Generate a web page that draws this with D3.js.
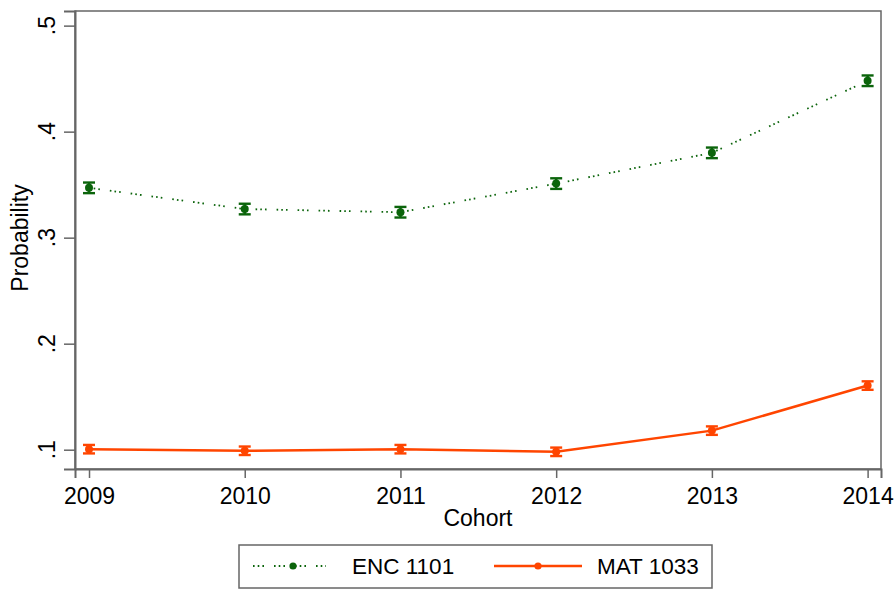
<!DOCTYPE html>
<html>
<head>
<meta charset="utf-8">
<script src="https://cdn.jsdelivr.net/npm/d3@7"></script>
<style>
  body { margin: 0; background: #fff; }
  svg { display: block; font-family: "Liberation Sans", Arial, sans-serif; }
</style>
</head>
<body>
<svg width="896" height="590"></svg>
<script>
// data
const cohorts = [2009, 2010, 2011, 2012, 2013, 2014];
const encProb = [0.347, 0.327, 0.324, 0.351, 0.380, 0.448];
const encErr  = [0.005, 0.005, 0.005, 0.005, 0.005, 0.005];
const matProb = [0.1005, 0.099, 0.1005, 0.098, 0.118, 0.1605];
const matErr  = [0.004, 0.004, 0.004, 0.004, 0.004, 0.004];
const yTicks = [0.1, 0.2, 0.3, 0.4, 0.5];
const yTickLabels = [".1", ".2", ".3", ".4", ".5"];
const seriesNames = ["ENC 1101", "MAT 1033"];

const svg = d3.select("svg");
const plot = {left: 75, right: 881, top: 11, bottom: 469};
const green = "#0b640b", orange = "#ff4500", frame = "#666";
const dots = "1.6,3.1,1.6,3.1,1.6,10";

// scales
let x = d3.scaleLinear()
    .domain([2008.91, 2014.086])
    .range([plot.left, plot.right]);
let y = d3.scaleLinear()
    .domain([0.0818, 0.5138])
    .range([plot.bottom, plot.top]);

// plot region frame
svg.append("rect")
  .attr("x", plot.left).attr("y", plot.top)
  .attr("width", plot.right - plot.left)
  .attr("height", plot.bottom - plot.top)
  .style("fill", "none").style("stroke", frame).style("stroke-width", 1.5);

// y axis
const yAxis = svg.append("g").attr("transform", "translate(" + plot.left + ",0)")
  .call(d3.axisLeft(y).tickValues(yTicks).tickSize(11).tickFormat(""));
yAxis.select(".domain").style("stroke", frame).style("stroke-width", 2);
yAxis.selectAll(".tick line").style("stroke", frame).style("stroke-width", 1.5);
yTicks.forEach((t, i) => {
  svg.append("text")
    .attr("transform", "translate(55," + y(t) + ") rotate(-90)")
    .attr("text-anchor", "middle")
    .style("font-size", "23px")
    .text(yTickLabels[i]);
});

// x axis
const xAxis = svg.append("g").attr("transform", "translate(0," + plot.bottom + ")")
  .call(d3.axisBottom(x).tickValues(cohorts).tickSize(9).tickPadding(10).tickFormat(d3.format("d")));
xAxis.select(".domain").style("stroke", frame).style("stroke-width", 2);
xAxis.selectAll(".tick line").style("stroke", frame).style("stroke-width", 1.5);
xAxis.selectAll(".tick text")
  .style("font-size", "23px").style("fill", "#000")
  .style("font-family", "Liberation Sans, Arial, sans-serif");

// axis titles
svg.append("text")
  .attr("x", 478).attr("y", 526)
  .attr("text-anchor", "middle").style("font-size", "23px")
  .text("Cohort");
svg.append("text")
  .attr("transform", "translate(28,238) rotate(-90)")
  .attr("text-anchor", "middle").style("font-size", "23px")
  .text("Probability");

// draw one series with error bars
function drawSeries(vals, errs, color, dash) {
  const pts = cohorts.map((c, i) => ({c: c, v: vals[i], e: errs[i]}));
  const line = d3.line().x(d => x(d.c)).y(d => y(d.v));
  svg.append("path")
    .datum(pts)
    .attr("d", line)
    .style("fill", "none")
    .style("stroke", color)
    .style("stroke-width", dash ? 1.8 : 2.5)
    .style("stroke-dasharray", dash || null);

  const g = svg.append("g").selectAll("g").data(pts).enter().append("g");
  g.append("line")
    .attr("x1", d => x(d.c)).attr("x2", d => x(d.c))
    .attr("y1", d => y(d.v - d.e)).attr("y2", d => y(d.v + d.e))
    .style("stroke", color).style("stroke-width", 2.5);
  [-1, 1].forEach(s => {
    g.append("line")
      .attr("x1", d => x(d.c) - 6).attr("x2", d => x(d.c) + 6)
      .attr("y1", d => y(d.v + s * d.e)).attr("y2", d => y(d.v + s * d.e))
      .style("stroke", color).style("stroke-width", 2.4);
  });
  g.append("circle")
    .attr("cx", d => x(d.c)).attr("cy", d => y(d.v))
    .attr("r", 4)
    .style("fill", color);
}

drawSeries(encProb, encErr, green, dots);
drawSeries(matProb, matErr, orange, null);

// legend
const legend = svg.append("g");
legend.append("rect")
  .attr("x", 239).attr("y", 545).attr("width", 473).attr("height", 43)
  .style("fill", "#fff").style("stroke", frame).style("stroke-width", 1.5);

legend.append("line")
  .attr("x1", 253).attr("x2", 326).attr("y1", 566).attr("y2", 566)
  .style("stroke", green).style("stroke-width", 1.8)
  .style("stroke-dasharray", dots);
legend.append("circle").attr("cx", 293).attr("cy", 566).attr("r", 3.6).style("fill", green);
legend.append("text").attr("x", 352).attr("y", 574)
  .style("font-size", "22.5px").text(seriesNames[0]);

legend.append("line")
  .attr("x1", 494).attr("x2", 582).attr("y1", 566).attr("y2", 566)
  .style("stroke", orange).style("stroke-width", 2.5);
legend.append("circle").attr("cx", 538).attr("cy", 566).attr("r", 3.6).style("fill", orange);
legend.append("text").attr("x", 597).attr("y", 574)
  .style("font-size", "22.5px").text(seriesNames[1]);
</script>
</body>
</html>
